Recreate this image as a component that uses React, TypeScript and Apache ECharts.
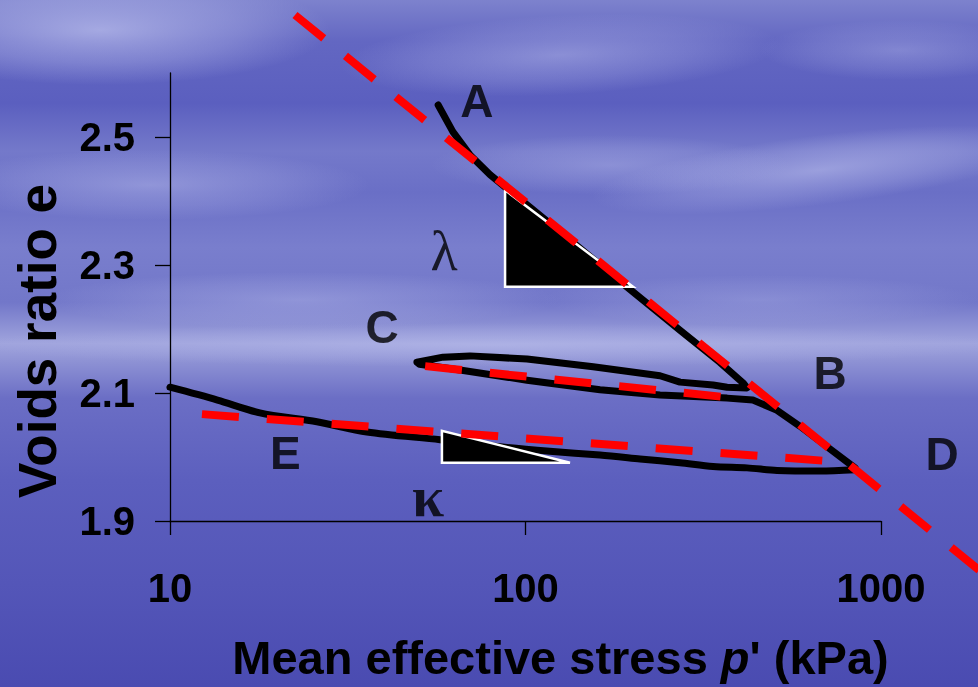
import React, { useEffect, useRef } from 'react';
import * as echarts from 'echarts';

// ---- data ----
const xTicks = [10, 100, 1000];
const yTicks = [1.9, 2.1, 2.3, 2.5];

// stress path: A -> B, unload to C, reload to B, on to D
const loadP = [56.8, 62.5, 69.8, 79.5, 87.6, 125, 184, 272, 352, 409,
  420, 369, 337, 272, 239, 155, 101, 69.8, 58.6, 49.5,
  50.3, 65.4, 101, 162, 239, 369, 436, 510, 592, 719, 845];
const loadE = [2.550, 2.508, 2.472, 2.441, 2.422, 2.352, 2.275, 2.198, 2.148, 2.116,
  2.108, 2.109, 2.1125, 2.117, 2.127, 2.141, 2.153, 2.158, 2.156, 2.148,
  2.145, 2.136, 2.120, 2.105, 2.097, 2.092, 2.089, 2.073, 2.048, 2.0125, 1.983];
// unloading D -> E
const unloadP = [845, 674, 510, 420, 337, 272, 210, 162, 117, 84.8, 57.5, 35.8, 25.9, 17.9, 13.6, 10];
const unloadE = [1.980, 1.978, 1.979, 1.983, 1.985, 1.991, 1.997, 2.003, 2.009, 2.016, 2.027, 2.039, 2.055, 2.069, 2.089, 2.109];

const lambdaLine: [number, number][] = [[22.47, 2.6906], [1888, 1.8234]];
const kappaLineC: [number, number][] = [[52.2, 2.142], [359, 2.094]];
const kappaLineE: [number, number][] = [[12.3, 2.067], [696, 1.994]];

const lambdaTriangle: [number, number][] = [[87.6, 2.417], [87.6, 2.266], [200.6, 2.266]];
const kappaTriangle: [number, number][] = [[58.2, 2.041], [58.2, 1.991], [133.4, 1.991]];

const pointNames = ['A', 'B', 'C', 'D', 'E'];
const pointPos: [number, number][] = [[73.0, 2.556], [719, 2.131], [39.5, 2.203], [1485, 2.005], [21.1, 2.006]];
const slopeNames = ['λ', 'κ'];
const slopePos: [number, number][] = [[59.0, 2.322], [53.2, 1.939]];

const SANS = '"Liberation Sans", Arial, Helvetica, sans-serif';
const SERIF = '"Liberation Serif", "Times New Roman", serif';

function cloud(cx: number, cy: number, rx: number, ry: number, a: number, rot = 0) {
  return {
    type: 'ellipse',
    z: -90,
    silent: true,
    x: cx,
    y: cy,
    rotation: rot,
    shape: { cx: 0, cy: 0, rx, ry },
    style: {
      fill: {
        type: 'radial', x: 0.5, y: 0.5, r: 0.5,
        colorStops: [
          { offset: 0, color: `rgba(190,194,238,${a})` },
          { offset: 0.6, color: `rgba(180,184,234,${a * 0.5})` },
          { offset: 1, color: 'rgba(180,184,234,0)' },
        ],
      },
    },
  };
}

export default function App() {
  const ref = useRef<HTMLDivElement>(null);

  useEffect(() => {
    if (!ref.current) return;
    const chart = echarts.init(ref.current, undefined, { renderer: 'svg' });

    const loadPath = loadP.map((p, i) => [p, loadE[i]]);
    const unloadPath = unloadP.map((p, i) => [p, unloadE[i]]);
    const triangles = [lambdaTriangle, kappaTriangle];

    const labelData = [
      ...pointNames.map((n, i) => ({
        value: pointPos[i],
        name: n,
        label: { fontFamily: SANS, fontSize: 46, fontWeight: 'bold' },
      })),
      { value: slopePos[0], name: slopeNames[0], label: { fontFamily: SERIF, fontSize: 56, fontWeight: 'normal' } },
      { value: slopePos[1], name: slopeNames[1], label: { fontFamily: SERIF, fontSize: 58, fontWeight: 'bold' } },
    ];

    const redStyle = { color: '#ff0000', width: 8, type: [37, 28] as number[], cap: 'butt' };

    chart.setOption({
      animation: false,
      graphic: {
        elements: [
          {
            type: 'rect',
            z: -100,
            silent: true,
            shape: { x: 0, y: 0, width: 978, height: 687 },
            style: {
              fill: {
                type: 'linear', x: 0, y: 0, x2: 0, y2: 1,
                colorStops: [
                  { offset: 0, color: '#7d82cd' },
                  { offset: 0.06, color: '#6367c2' },
                  { offset: 0.15, color: '#5b5fbf' },
                  { offset: 0.22, color: '#7479ca' },
                  { offset: 0.28, color: '#6a6fc6' },
                  { offset: 0.36, color: '#797ecd' },
                  { offset: 0.44, color: '#7277c9' },
                  { offset: 0.5, color: '#a0a4dd' },
                  { offset: 0.53, color: '#8b8fd3' },
                  { offset: 0.58, color: '#6b6ec5' },
                  { offset: 0.7, color: '#5c5fbe' },
                  { offset: 0.85, color: '#5456b8' },
                  { offset: 1, color: '#4a4bb1' },
                ],
              },
            },
          },
          cloud(100, 30, 230, 55, 0.7),
          cloud(560, 55, 220, 40, 0.45, 0.05),
          cloud(900, 50, 140, 30, 0.35),
          cloud(820, 170, 230, 35, 0.55, 0.12),
          cloud(610, 165, 180, 30, 0.35),
          cloud(150, 185, 220, 35, 0.45),
          cloud(300, 300, 260, 28, 0.4),
          cloud(760, 300, 220, 25, 0.3),
          cloud(490, 345, 520, 22, 0.45),
        ],
      },
      grid: {
        left: 170,
        right: 97,
        top: 73,
        bottom: 166,
        containLabel: false,
        outerBoundsMode: 'none',
      },
      xAxis: {
        type: 'log',
        logBase: 10,
        min: 10,
        max: 1000,
        name: "Mean effective stress {i|p}' (kPa)",
        nameLocation: 'middle',
        nameGap: 113,
        nameTextStyle: {
          color: '#000',
          fontFamily: SANS,
          fontSize: 47,
          fontWeight: 'bold',
          padding: [0, 0, 0, 70],
          rich: {
            i: { color: '#000', fontFamily: SANS, fontSize: 47, fontWeight: 'bold', fontStyle: 'italic' },
          },
        },
        axisLine: { show: true, onZero: false, lineStyle: { color: '#000', width: 1.3 } },
        axisTick: { show: true, inside: false, length: 14, lineStyle: { color: '#000', width: 1.3 } },
        minorTick: { show: false },
        splitLine: { show: false },
        minorSplitLine: { show: false },
        axisLabel: {
          color: '#000',
          fontFamily: SANS,
          fontSize: 40,
          fontWeight: 'bold',
          margin: 47,
          formatter: (v: number) => String(Math.round(v)),
          customValues: xTicks,
        },
      },
      yAxis: {
        type: 'value',
        min: 1.9,
        max: 2.6,
        name: 'Voids ratio e',
        nameLocation: 'middle',
        nameRotate: 90,
        nameGap: 106,
        nameTextStyle: {
          color: '#000', fontFamily: SANS, fontSize: 53, fontWeight: 'bold',
          padding: [0, 88, 0, 0],
        },
        axisLine: { show: true, onZero: false, lineStyle: { color: '#000', width: 1.3 } },
        axisTick: { show: true, inside: false, length: 15, customValues: yTicks, lineStyle: { color: '#000', width: 1.3 } },
        splitLine: { show: false },
        axisLabel: {
          color: '#000',
          fontFamily: SANS,
          fontSize: 40,
          fontWeight: 'bold',
          margin: 35,
          customValues: yTicks,
          formatter: (v: number) => v.toFixed(1),
        },
      },
      series: [
        {
          type: 'line',
          name: 'loading path',
          data: loadPath,
          symbol: 'none',
          clip: false,
          z: 2,
          lineStyle: { color: '#000', width: 7, join: 'round', cap: 'round' },
        },
        {
          type: 'line',
          name: 'unloading path',
          data: unloadPath,
          symbol: 'none',
          smooth: 0.3,
          clip: false,
          z: 2,
          lineStyle: { color: '#000', width: 7, join: 'round', cap: 'round' },
        },
        {
          type: 'custom',
          name: 'slope triangles',
          coordinateSystem: 'cartesian2d',
          data: triangles.map((t) => t[0]),
          encode: { x: 0, y: 1 },
          clip: false,
          z: 3,
          renderItem: (params: any, api: any) => {
            const tri = triangles[params.dataIndex];
            const pts = tri.map((pt) => api.coord(pt));
            return {
              type: 'polygon',
              shape: { points: pts },
              style: { fill: '#000', stroke: '#fff', lineWidth: 2.5 },
            };
          },
        },
        {
          type: 'custom',
          name: 'lambda line',
          coordinateSystem: 'cartesian2d',
          data: [lambdaLine[0]],
          encode: { x: 0, y: 1 },
          clip: false,
          z: 4,
          renderItem: (params: any, api: any) => {
            const a = api.coord(lambdaLine[0]);
            const b = api.coord(lambdaLine[1]);
            return {
              type: 'line',
              shape: { x1: a[0], y1: a[1], x2: b[0], y2: b[1] },
              style: { stroke: '#ff0000', lineWidth: 8, lineDash: [37, 28], lineCap: 'butt', fill: null },
            };
          },
        },
        {
          type: 'line',
          name: 'kappa line C',
          data: kappaLineC,
          symbol: 'none',
          clip: false,
          z: 4,
          lineStyle: redStyle,
        },
        {
          type: 'line',
          name: 'kappa line E',
          data: kappaLineE,
          symbol: 'none',
          clip: false,
          z: 4,
          lineStyle: redStyle,
        },
        {
          type: 'scatter',
          name: 'labels',
          data: labelData,
          symbolSize: 0,
          clip: false,
          z: 5,
          label: {
            show: true,
            position: 'inside',
            color: '#000',
            formatter: (p: any) => p.name,
          },
        },
      ],
    });

    return () => chart.dispose();
  }, []);

  return (
    <div
      ref={ref}
      style={{ position: 'fixed', left: 0, top: 0, width: 978, height: 687 }}
    />
  );
}
